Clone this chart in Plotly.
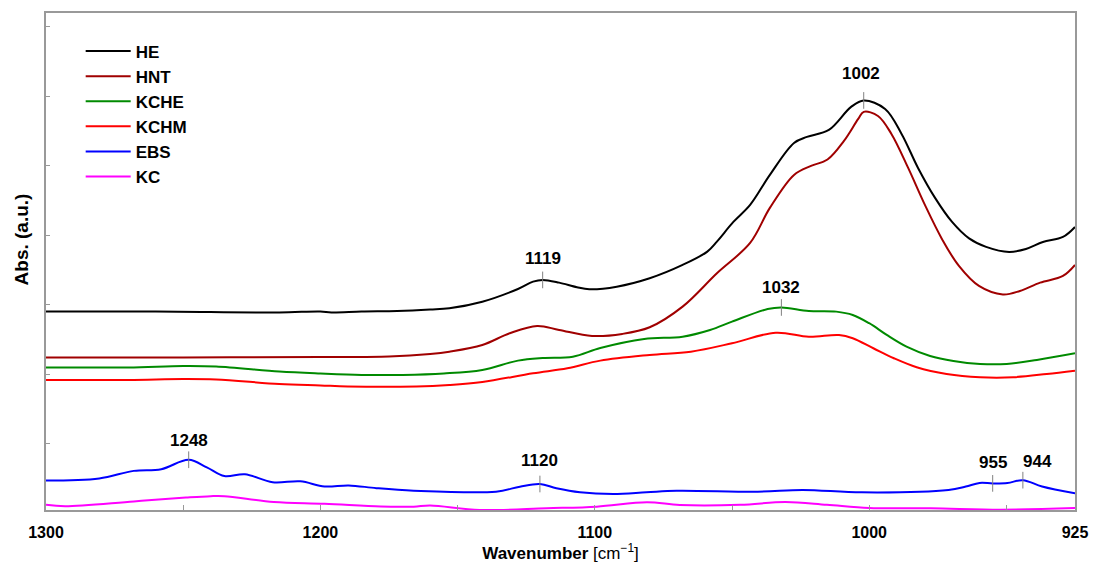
import numpy as np
import plotly.graph_objects as go

# ---- FTIR absorbance spectra (offset, arbitrary units) ----
he_wn = [1300, 1260, 1215, 1200, 1196, 1185, 1172, 1160, 1153, 1141, 1128, 1122.5, 1119, 1113,
         1106.5, 1102, 1092, 1080, 1068, 1059, 1055.5, 1049.5, 1043.4, 1036.2, 1027.4, 1022.7,
         1014.7, 1006.6, 1002, 994.2, 988.2, 982.2, 976, 969.8, 963.6, 957.4, 949, 942.9, 936.7,
         929.4, 925]
he_abs = [2.906, 2.906, 2.892, 2.906, 2.892, 2.906, 2.914, 2.935, 2.953, 3.047, 3.230, 3.335, 3.360,
          3.321, 3.255, 3.226, 3.263, 3.384, 3.576, 3.767, 3.911, 4.194, 4.439, 4.871, 5.331, 5.417,
          5.518, 5.849, 5.942, 5.820, 5.460, 4.971, 4.540, 4.194, 3.957, 3.835, 3.763, 3.806, 3.906,
          3.978, 4.122]

hnt_wn = [1300, 1250, 1200, 1175, 1160, 1153, 1141, 1131, 1121, 1113, 1101, 1090, 1080, 1068,
          1055.5, 1043.4, 1036.2, 1027.4, 1021.2, 1015.2, 1009.2, 1004, 1002, 996.8, 991.9, 985.8,
          979.7, 973.5, 967.3, 960, 951.3, 945.1, 937.7, 929.4, 925]
hnt_abs = [2.245, 2.245, 2.252, 2.259, 2.295, 2.328, 2.424, 2.593, 2.698, 2.640, 2.554, 2.583, 2.679,
           2.976, 3.456, 3.892, 4.396, 4.871, 5.000, 5.092, 5.360, 5.676, 5.777, 5.719, 5.460, 4.971,
           4.439, 3.950, 3.561, 3.273, 3.151, 3.201, 3.321, 3.417, 3.576]

kche_wn = [1300, 1270, 1250, 1238, 1215, 1200, 1185, 1170, 1155, 1141, 1128, 1119, 1108, 1098,
           1082, 1068, 1058, 1050, 1037, 1032, 1022, 1012, 1006, 1000, 993.6, 986.4, 977.8, 969.3,
           959.6, 949.9, 938.9, 925]
kche_abs = [2.101, 2.101, 2.122, 2.115, 2.043, 2.014, 1.993, 1.993, 2.014, 2.065, 2.199, 2.237,
            2.256, 2.381, 2.511, 2.544, 2.640, 2.760, 2.942, 2.964, 2.914, 2.904, 2.856, 2.737,
            2.568, 2.400, 2.266, 2.194, 2.151, 2.151, 2.209, 2.305]

kchm_wn = [1300, 1270, 1250, 1238, 1215, 1200, 1190, 1165, 1153, 1141, 1122.5, 1110, 1098, 1080,
           1065, 1050, 1034, 1022, 1011, 1006, 998.5, 991, 982.7, 971.8, 959.6, 947.5, 935.3, 925]
kchm_abs = [1.921, 1.921, 1.935, 1.928, 1.863, 1.842, 1.827, 1.827, 1.849, 1.892, 2.017, 2.089,
            2.199, 2.281, 2.328, 2.449, 2.601, 2.544, 2.568, 2.521, 2.377, 2.233, 2.104, 2.007,
            1.960, 1.960, 2.007, 2.055]

ebs_wn = [1300, 1280.6, 1268, 1258, 1248, 1241.4, 1235, 1227.5, 1217.4, 1207.3, 1198.5, 1189.7,
          1179.6, 1166, 1136, 1127.3, 1120, 1114, 1105.4, 1093.3, 1081.2, 1070.2, 1040.6, 1024.2,
          1002.7, 971.1, 964.8, 959.8, 955, 949.6, 944, 937, 925]
ebs_abs = [0.473, 0.504, 0.613, 0.637, 0.773, 0.663, 0.538, 0.564, 0.449, 0.463, 0.388, 0.404,
           0.364, 0.328, 0.314, 0.386, 0.424, 0.363, 0.305, 0.281, 0.305, 0.328, 0.314, 0.338,
           0.304, 0.338, 0.388, 0.439, 0.433, 0.439, 0.479, 0.388, 0.289]

kc_wn = [1300, 1293, 1268, 1249, 1240, 1235, 1217, 1198.5, 1178, 1166, 1160, 1142, 1117.5, 1099.3,
         1081, 1069, 1047, 1030.5, 1015.4, 1000, 977.5, 952, 925]
kc_abs = [0.125, 0.105, 0.174, 0.229, 0.249, 0.249, 0.165, 0.140, 0.099, 0.098, 0.115, 0.050, 0.075,
          0.098, 0.161, 0.122, 0.125, 0.165, 0.125, 0.079, 0.075, 0.055, 0.079]

series_names = ["HE", "HNT", "KCHE", "KCHM", "EBS", "KC"]
series_wn = [he_wn, hnt_wn, kche_wn, kchm_wn, ebs_wn, kc_wn]
series_abs = [he_abs, hnt_abs, kche_abs, kchm_abs, ebs_abs, kc_abs]
series_colors = ["#000000", "#A00000", "#008A00", "#FF0000", "#0000FF", "#FF00FF"]

# Labelled band positions (cm-1) and the spectrum each one sits on
peak_wn = [1119, 1002, 1032, 1248, 1120, 955, 944]
peak_series = ["HE", "HE", "KCHE", "EBS", "EBS", "EBS", "EBS"]
peak_xshift = [0, -3, 0, 0, 0, 0, 15]
peak_yshift = [10, 15, 8, 7, 12, 9, 7]

x_tickvals = [1300, 1250, 1200, 1150, 1100, 1050, 1000, 950, 925]
x_ticktext = ["1300", "", "1200", "", "1100", "", "1000", "", "925"]

FONT = "Arial, Liberation Sans, sans-serif"
AXIS_GREY = "#999999"

fig = go.Figure()
for name, wn, ab, col in zip(series_names, series_wn, series_abs, series_colors):
    fig.add_trace(go.Scatter(
        x=wn, y=ab, name=name, mode="lines",
        line=dict(color=col, width=2, shape="spline", smoothing=1.0),
    ))

lookup = {n: (np.array(w[::-1], float), np.array(a[::-1], float))
          for n, w, a in zip(series_names, series_wn, series_abs)}
tick_half = 0.12
for wn, sname, dx, dy in zip(peak_wn, peak_series, peak_xshift, peak_yshift):
    xp, yp = lookup[sname]
    yv = float(np.interp(wn, xp, yp))
    fig.add_shape(type="line", x0=wn, x1=wn, y0=yv - tick_half, y1=yv + tick_half,
                  xref="x", yref="y", line=dict(color="#808080", width=1))
    fig.add_annotation(x=wn, y=yv + tick_half, text=f"<b>{wn}</b>", showarrow=False,
                       xanchor="center", yanchor="bottom", xshift=dx, yshift=dy - 8,
                       font=dict(family=FONT, size=17, color="#000000"))

# y-axis title, set slightly above the vertical centre of the frame
fig.add_annotation(text="<b>Abs. (a.u.)</b>", textangle=-90, showarrow=False,
                   xref="paper", yref="paper", x=-0.024, y=0.545,
                   xanchor="center", yanchor="middle",
                   font=dict(family=FONT, size=19, color="#000000"))

fig.update_layout(
    width=1094, height=563,
    margin=dict(l=46, r=19, t=13, b=53),
    plot_bgcolor="#ffffff", paper_bgcolor="#ffffff",
    font=dict(family=FONT, color="#000000"),
    showlegend=True,
    legend=dict(
        x=0.0337, y=0.9588, xanchor="left", yanchor="top",
        bgcolor="rgba(0,0,0,0)", borderwidth=0,
        font=dict(family=FONT, size=17, color="#000000", weight="bold"),
        itemwidth=45, tracegroupgap=0,
    ),
)

fig.update_xaxes(
    range=[1300, 925], autorange=False, automargin=False,
    tickmode="array", tickvals=x_tickvals, ticktext=x_ticktext,
    ticks="inside", ticklen=5, tickcolor=AXIS_GREY, tickwidth=1,
    ticklabelstandoff=7,
    showline=True, linecolor=AXIS_GREY, linewidth=2, mirror=True,
    showgrid=False, zeroline=False,
    tickfont=dict(family=FONT, size=16, color="#000000", weight="bold"),
    title=dict(text="<b>Wavenumber</b> [cm<sup>\u22121</sup>]",
               font=dict(family=FONT, size=17, color="#000000"), standoff=2),
)
fig.update_yaxes(
    range=[0.05, 7.2], autorange=False, automargin=False,
    tickmode="linear", tick0=0, dtick=1,
    ticks="inside", ticklen=4, tickcolor=AXIS_GREY, tickwidth=1,
    showticklabels=False,
    showline=True, linecolor=AXIS_GREY, linewidth=2, mirror=True,
    showgrid=False, zeroline=False,
)

fig.write_html("out.html")
